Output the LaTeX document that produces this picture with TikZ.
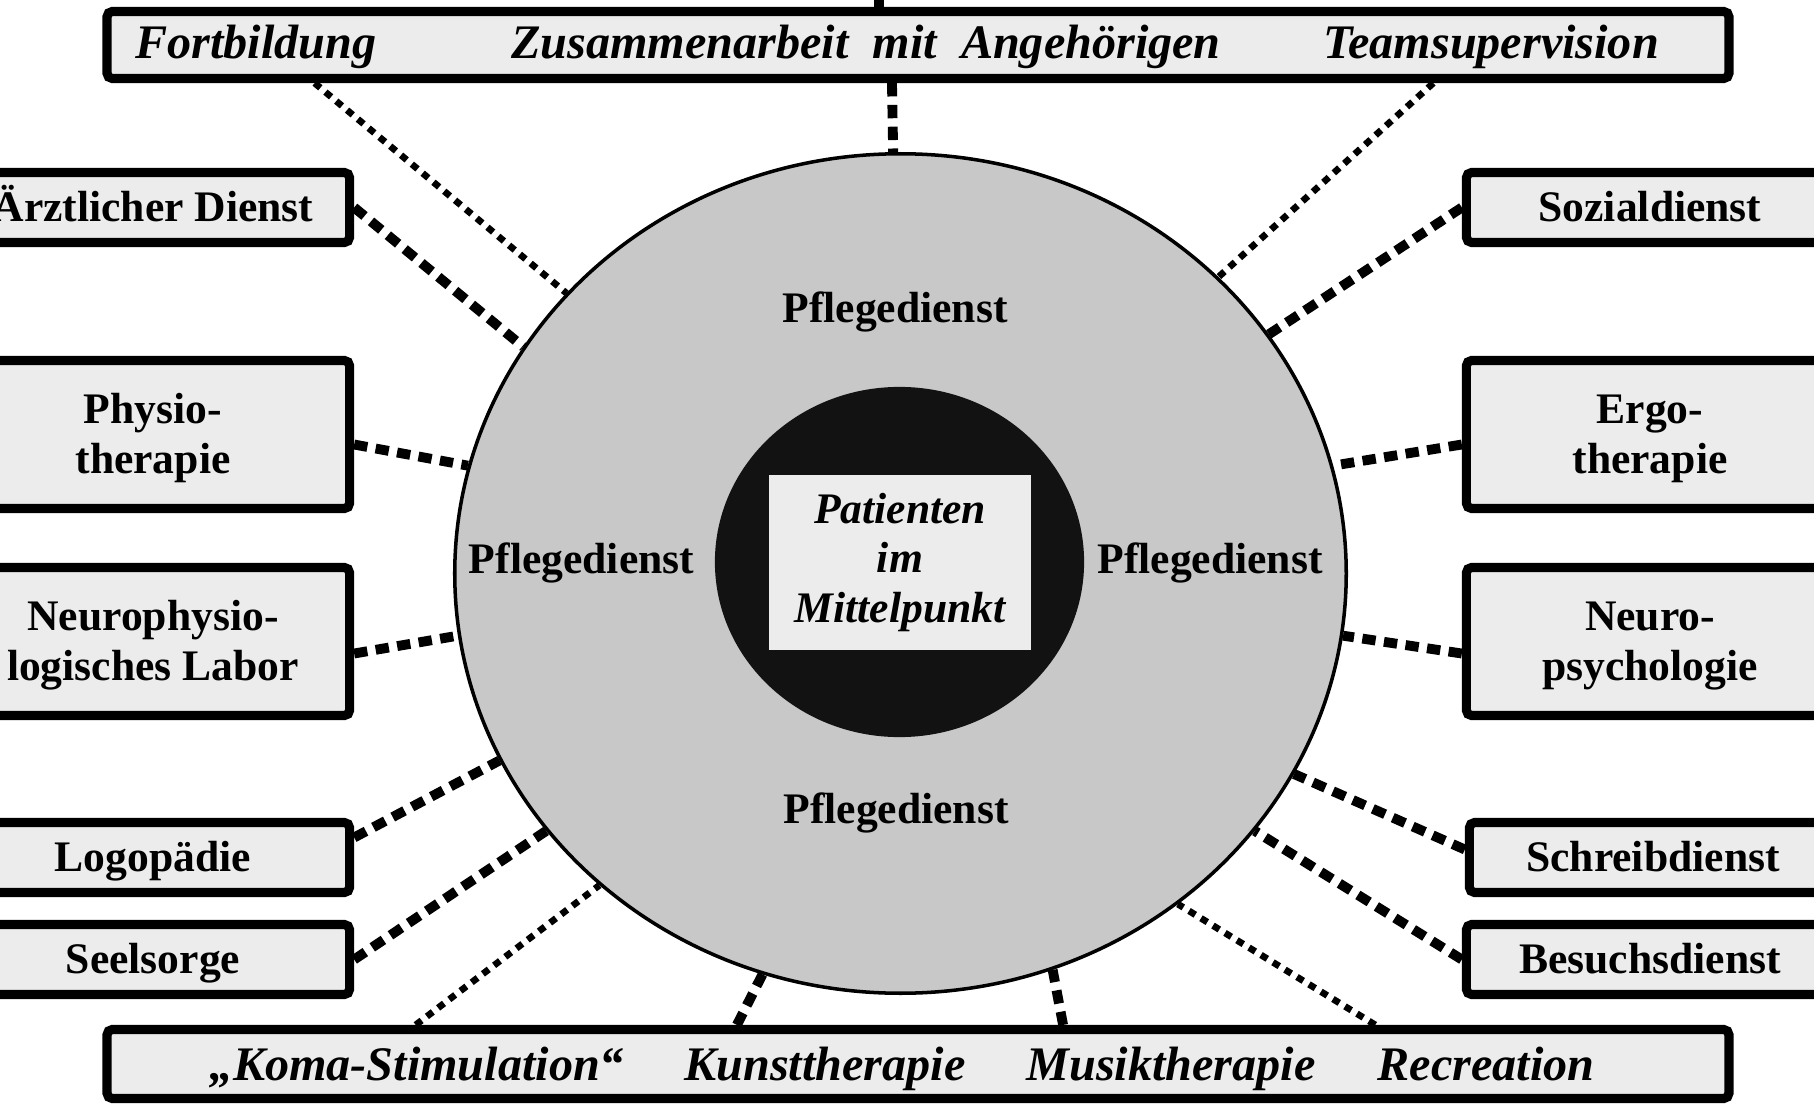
\documentclass[tikz,border=0pt]{standalone}
\usepackage{fontspec}
\setmainfont{Liberation Serif}
\usetikzlibrary{shapes.geometric}
\definecolor{boxfill}{RGB}{236,236,236}
\definecolor{ringfill}{RGB}{200,200,200}
\definecolor{corefill}{RGB}{18,18,18}
\tikzset{
	sidebox/.style={draw=black, line width=2.6pt, fill=boxfill, rounded corners=1.5pt, inner sep=0pt, align=center, font=\bfseries\fontsize{12.4}{14.2}\selectfont},
	oneline/.style={minimum height=0.70cm, text height=8.7pt, text depth=0.46pt},
	twoline/.style={minimum height=1.48cm, text height=24.6pt, text depth=2.7pt},
	leftbox/.style={sidebox, minimum width=3.93cm},
	rightbox/.style={sidebox, minimum width=3.67cm},
	barbox/.style={draw=black, line width=2.6pt, fill=boxfill, rounded corners=1.5pt, inner sep=0pt, minimum width=16.21cm},
	bartext/.style={anchor=base, inner sep=0pt, font=\bfseries\itshape\fontsize{13.7}{16}\selectfont},
	ringtext/.style={anchor=base, inner sep=0pt, font=\bfseries\fontsize{12.4}{14.2}\selectfont},
	thicklink/.style={line width=2.8pt, dash pattern=on 3.8pt off 2.4pt},
	thinlink/.style={line width=1.9pt, dash pattern=on 2.1pt off 1.9pt}
}
\begin{document}
\begin{tikzpicture}[x=0.01cm, y=-0.01cm]
	\useasboundingbox (0,0) rectangle (1814,1109);
	\node[ellipse, draw=black, line width=1pt, fill=ringfill, minimum width=8.91cm, minimum height=8.39cm, inner sep=0pt] (pflege) at (900.5,573.5) {};
	\node[ellipse, fill=corefill, minimum width=3.69cm, minimum height=3.5cm, inner sep=0pt] (core) at (899.5,562) {};
	\node[fill=boxfill, minimum width=2.62cm, minimum height=1.75cm, inner sep=0pt, align=center, font=\bfseries\itshape\fontsize{12.4}{14.1}\selectfont] (patient) at (900,562.5) {Patienten\\im\\Mittelpunkt};
	\node[ringtext] (pftop) at (895,322) {Pflegedienst};
	\node[ringtext] (pfleft) at (581.5,573) {Pflegedienst};
	\node[ringtext] (pfright) at (1210,573) {Pflegedienst};
	\node[ringtext] (pfbottom) at (896,823) {Pflegedienst};

	\node[barbox, minimum height=0.67cm] (topbar) at (918,45) {};
	\node[bartext] (fortb) at (256,58) {Fortbildung};
	\node[bartext] (angeh) at (866,58) {Zusammenarbeit\ \ mit\ \ Angehörigen};
	\node[bartext] (teamsup) at (1491,58) {Teamsupervision};
	\coordinate (stem) at (879,0);
	\draw[line width=2.6pt] (stem) -- (stem |- topbar.north);

	\node[barbox, minimum height=0.69cm] (botbar) at (918,1064) {};
	\node[bartext] (koma) at (416.5,1080) {„Koma-Stimulation“};
	\node[bartext] (kunst) at (825,1080) {Kunsttherapie};
	\node[bartext] (musik) at (1171,1080) {Musiktherapie};
	\node[bartext] (recr) at (1486,1080) {Recreation};

	\node[leftbox, oneline] (aerzte) at (153,207.5) {Ärztlicher Dienst};
	\node[leftbox, twoline] (physio) at (153,434.5) {Physio-\\therapie};
	\node[leftbox, twoline] (neurolab) at (153,641.5) {Neurophysio-\\logisches Labor};
	\node[leftbox, oneline] (logo) at (153,857.5) {Logopädie};
	\node[leftbox, oneline] (seelsorge) at (153,959.5) {Seelsorge};

	\node[rightbox, oneline] (sozial) at (1650,207.5) {Sozialdienst};
	\node[rightbox, twoline] (ergo) at (1650,434.5) {Ergo-\\therapie};
	\node[rightbox, twoline] (neuropsych) at (1650,641.5) {Neuro-\\psychologie};
	\node[rightbox, oneline] (schreib) at (1653,857.5) {Schreibdienst};
	\node[rightbox, oneline] (besuch) at (1650,959.5) {Besuchsdienst};

	\draw[thinlink] ([xshift=-6.03cm]topbar.south) -- (pflege.140);
	\draw[thicklink] ([xshift=-0.26cm]topbar.south) -- (pflege.91);
	\draw[thinlink] ([xshift=5.15cm]topbar.south) -- (pflege.43);
	\draw[thicklink] (aerzte.east) -- (pflege.149);
	\draw[thicklink] (sozial.west) -- (pflege.33);
	\draw[thicklink] ([yshift=-0.1cm]physio.east) -- (pflege.166);
	\draw[thicklink] ([yshift=-0.1cm]ergo.west) -- (pflege.14);
	\draw[thicklink] ([yshift=-0.12cm]neurolab.east) -- (pflege.188);
	\draw[thicklink] ([yshift=-0.12cm]neuropsych.west) -- (pflege.352);
	\draw[thicklink] ([yshift=0.2cm]logo.east) -- (pflege.205);
	\draw[thicklink] ([yshift=0.08cm]schreib.west) -- (pflege.333);
	\draw[thicklink] (seelsorge.east) -- (pflege.216);
	\draw[thicklink] (besuch.west) -- (pflege.324);
	\draw[thinlink] ([xshift=-5.02cm]botbar.north) -- (pflege.226);
	\draw[thicklink] ([xshift=-1.81cm]botbar.north) -- (pflege.251);
	\draw[thicklink] ([xshift=1.45cm]botbar.north) -- (pflege.291);
	\draw[thinlink] ([xshift=4.57cm]botbar.north) -- (pflege.310);
\end{tikzpicture}
\end{document}
